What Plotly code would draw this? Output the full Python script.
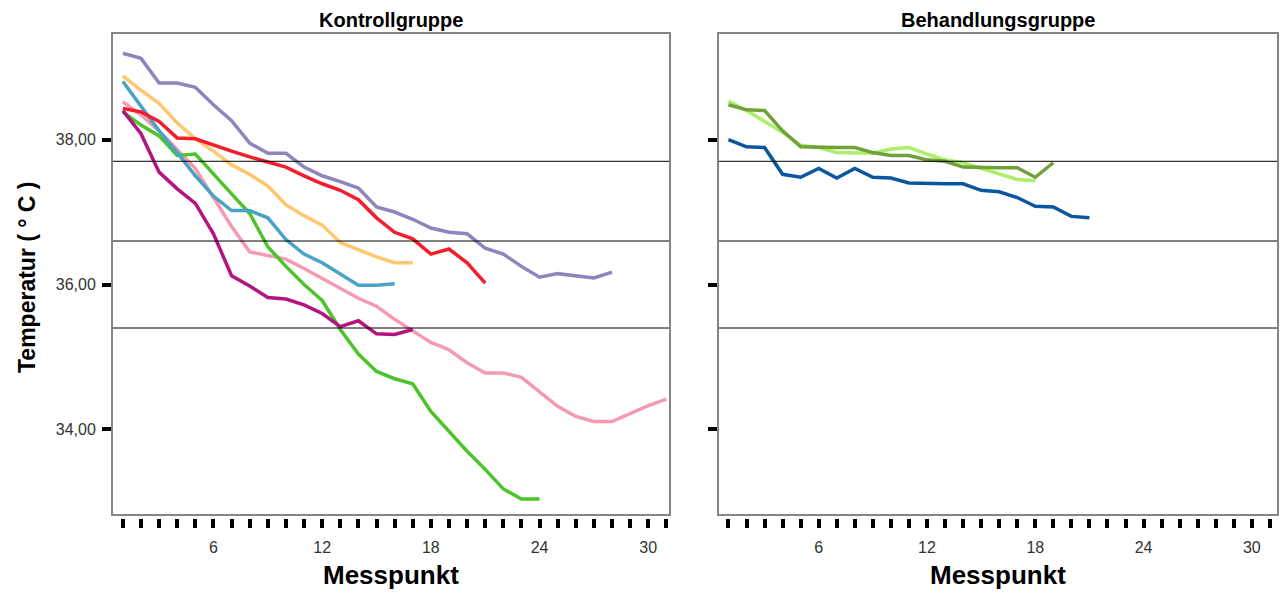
import plotly.graph_objects as go

# ---- measurement points / axis labels ----
tick_positions = list(range(1, 32))
labelled_ticks = {6: "6", 12: "12", 18: "18", 24: "24", 30: "30"}
temp_ticks = [34, 36, 38]
temp_tick_labels = ["34,00", "36,00", "38,00"]
reference_levels = [37.7, 36.6, 35.4]

# ---- Kontrollgruppe: temperature per measurement point (starting at 1) ----
k_purple = [39.19, 39.12, 38.78, 38.78, 38.72, 38.48, 38.26, 37.95, 37.81, 37.81,
            37.62, 37.50, 37.42, 37.33, 37.07, 37.00, 36.90, 36.78, 36.72, 36.70,
            36.50, 36.42, 36.25, 36.10, 36.15, 36.12, 36.09, 36.17]
k_red = [38.43, 38.38, 38.25, 38.02, 38.01, 37.92, 37.84, 37.76, 37.69, 37.62,
         37.50, 37.39, 37.30, 37.17, 36.92, 36.72, 36.63, 36.42, 36.49, 36.30, 36.02]
k_orange = [38.88, 38.68, 38.50, 38.23, 38.01, 37.84, 37.65, 37.52, 37.36, 37.10,
            36.95, 36.82, 36.58, 36.48, 36.38, 36.30, 36.30]
k_cyan = [38.80, 38.45, 38.12, 37.82, 37.50, 37.22, 37.02, 37.02, 36.92, 36.62,
          36.42, 36.30, 36.15, 35.99, 35.99, 36.01]
k_pink = [38.52, 38.34, 38.12, 37.86, 37.60, 37.20, 36.80, 36.45, 36.40, 36.35,
          36.22, 36.08, 35.95, 35.81, 35.70, 35.52, 35.36, 35.20, 35.10, 34.92,
          34.78, 34.78, 34.72, 34.52, 34.32, 34.18, 34.11, 34.11, 34.22, 34.33, 34.42]
k_green = [38.38, 38.20, 38.05, 37.78, 37.80, 37.52, 37.25, 36.98, 36.52, 36.25,
           36.00, 35.78, 35.38, 35.04, 34.80, 34.70, 34.63, 34.25, 33.97, 33.70,
           33.45, 33.18, 33.04, 33.04]
k_magenta = [38.40, 38.08, 37.55, 37.32, 37.12, 36.70, 36.12, 35.98, 35.82, 35.80,
             35.72, 35.60, 35.42, 35.50, 35.32, 35.31, 35.38]

# ---- Behandlungsgruppe ----
b_lightgreen = [38.53, 38.40, 38.25, 38.10, 37.92, 37.89, 37.82, 37.81, 37.81, 37.87,
                37.89, 37.80, 37.72, 37.68, 37.60, 37.52, 37.45, 37.43]
b_olive = [38.48, 38.41, 38.40, 38.12, 37.90, 37.89, 37.89, 37.89, 37.82, 37.78,
           37.78, 37.72, 37.70, 37.62, 37.61, 37.61, 37.61, 37.48, 37.68]
b_blue = [38.00, 37.90, 37.89, 37.52, 37.48, 37.60, 37.47, 37.60, 37.48, 37.47,
          37.40, 37.39, 37.39, 37.39, 37.30, 37.28, 37.20, 37.08, 37.07, 36.94, 36.92]

kontroll_series = [
    (k_pink, "#f59ab0"), (k_green, "#4cc42a"), (k_magenta, "#b3147f"),
    (k_cyan, "#4aa3c6"), (k_orange, "#fec870"), (k_red, "#f41d2d"),
    (k_purple, "#8d86bd"),
]
behandlung_series = [
    (b_lightgreen, "#acef68"), (b_olive, "#72a03a"), (b_blue, "#0b56a0"),
]

W, H = 1283, 593
FONT = "Liberation Sans, Arial, sans-serif"

fig = go.Figure()

for vals, col in kontroll_series:
    fig.add_trace(go.Scatter(x=list(range(1, len(vals) + 1)), y=vals, mode="lines",
                             line=dict(color=col, width=3.5), xaxis="x", yaxis="y",
                             showlegend=False, hoverinfo="skip"))
for vals, col in behandlung_series:
    fig.add_trace(go.Scatter(x=list(range(1, len(vals) + 1)), y=vals, mode="lines",
                             line=dict(color=col, width=3.5), xaxis="x2", yaxis="y2",
                             showlegend=False, hoverinfo="skip"))

tick_text = [labelled_ticks.get(t, "") for t in tick_positions]
y_top = 1 - 33 / H
y_bot = 1 - 515 / H
x_tick_pos = 1 - 518 / H

common_x = dict(
    tickmode="array", tickvals=tick_positions, ticktext=tick_text,
    ticks="outside", ticklen=9, tickwidth=4, tickcolor="black",
    showline=False, showgrid=False, zeroline=False,
    tickfont=dict(family=FONT, size=16, color="#333333"),
    ticklabelstandoff=6, anchor="free", position=x_tick_pos,
)
common_y = dict(
    tickmode="array", tickvals=temp_ticks,
    ticks="outside", ticklen=9, tickwidth=4, tickcolor="black",
    showline=False, showgrid=False, zeroline=False,
    range=[32.82, 39.47], domain=[y_bot, y_top],
    tickfont=dict(family=FONT, size=16, color="#333333"),
)

fig.update_layout(
    width=W, height=H,
    margin=dict(l=0, r=0, t=0, b=0),
    paper_bgcolor="white", plot_bgcolor="white",
    xaxis=dict(domain=[112 / W, 670 / W], range=[0.4, 31.2], **common_x),
    xaxis2=dict(domain=[718 / W, 1278 / W], range=[0.42, 31.45], **common_x),
    yaxis=dict(anchor="x", ticktext=temp_tick_labels, ticklabelstandoff=3, **common_y),
    yaxis2=dict(anchor="x2", showticklabels=False, **common_y),
)

shapes = []
for xr, yr in (("x", "y"), ("x2", "y2")):
    # horizontal reference levels, drawn over the curves
    for lvl in reference_levels:
        shapes.append(dict(type="line", xref=f"{xr} domain", yref=yr,
                           x0=0, x1=1, y0=lvl, y1=lvl,
                           line=dict(color="black", width=1), layer="above"))
    # panel frame
    shapes.append(dict(type="rect", xref=f"{xr} domain", yref=f"{yr} domain",
                       x0=0, x1=1, y0=0, y1=1,
                       line=dict(color="#858585", width=2), layer="above"))
fig.update_layout(shapes=shapes)


def label(text, xref, x, y_px, size, angle=0):
    return dict(text=text, xref=xref, x=x, yref="paper", y=1 - y_px / H,
                xanchor="center", yanchor="middle", textangle=angle,
                showarrow=False, font=dict(family=FONT, size=size, color="black"))


annotations = [
    label("<b>Kontrollgruppe</b>", "x domain", 0.5, 20, 20),
    label("<b>Behandlungsgruppe</b>", "x2 domain", 0.5, 20, 20),
    label("<b>Messpunkt</b>", "x domain", 0.5, 575, 26),
    label("<b>Messpunkt</b>", "x2 domain", 0.5, 575, 26),
    label("<b>Temperatur ( ° C )</b>", "paper", 27 / W, 277, 23, angle=-90),
]
fig.update_layout(annotations=annotations)

fig.write_html("out.html")
